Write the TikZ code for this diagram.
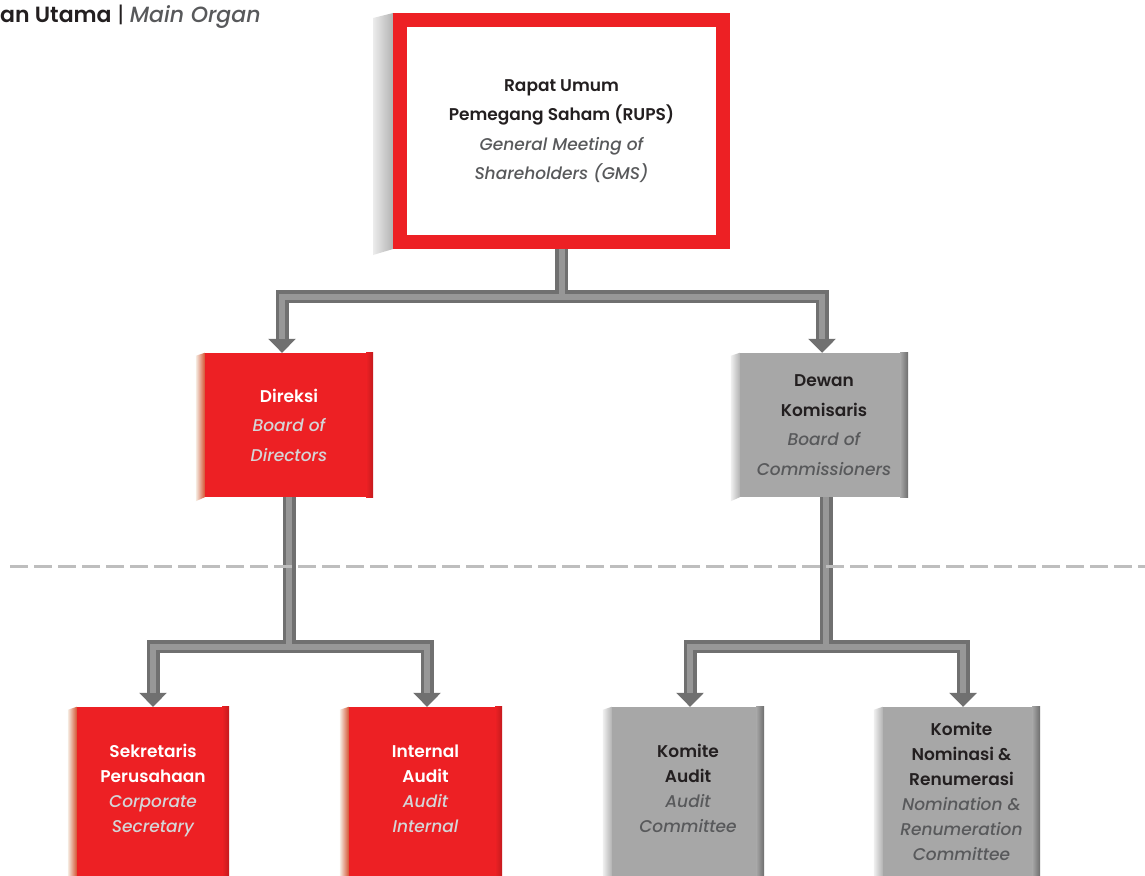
\documentclass[tikz,border=0pt]{standalone}
\usepackage{fontspec}
\setmainfont{Poppins}[BoldFont={Poppins SemiBold},ItalicFont={Poppins Medium Italic}]
\usetikzlibrary{arrows.meta,calc}
\definecolor{rred}{HTML}{ED2024}
\definecolor{bgray}{HTML}{A7A7A7}
\definecolor{txtd}{HTML}{231F20}
\definecolor{subg}{HTML}{58595B}
\definecolor{subr}{HTML}{D5D5D7}
\definecolor{conna}{HTML}{707070}
\definecolor{connb}{HTML}{979797}
\definecolor{dashc}{HTML}{BEBEBE}
\begin{document}
\begin{tikzpicture}[x=1pt,y=-1pt,
  redbox/.style={fill=rred, draw=none, inner sep=0pt},
  graybox/.style={fill=bgray, draw=none, inner sep=0pt},
  txt/.style={align=center, inner sep=0pt, font=\fontsize{17}{25}\selectfont},
  midtxt/.style={align=center, font=\fontsize{17}{29.5}\selectfont},
  conn/.style={draw=conna, line width=13pt, -{Triangle[width=27pt,length=14pt]}},
  connhi/.style={draw=connb, line width=6pt, shorten >=14pt}
]
\clip (0,0) rectangle (1145,875);
\fill[white] (0,0) rectangle (1145,875);

% title
\node[anchor=west, inner sep=0pt, font=\fontsize{22}{26}\selectfont] (title) at (0,17)
  {\textcolor{txtd}{\bfseries an Utama} \textcolor{txtd}{|} \textcolor{subg}{\itshape Main Organ}};

% boxes
\node[draw=rred, line width=14pt, fill=white, minimum width=323pt, minimum height=222pt, inner sep=0pt] (rups) at (561.5,131) {};
\node[redbox, minimum width=168pt, minimum height=144pt] (dir) at (289,425) {};
\node[graybox, minimum width=168pt, minimum height=144pt] (dk) at (824,425) {};
\node[redbox, minimum width=152pt, minimum height=190pt] (sek) at (153,802) {};
\node[redbox, minimum width=153pt, minimum height=190pt] (ia) at (425.5,802) {};
\node[graybox, minimum width=152pt, minimum height=190pt] (ka) at (688,802) {};
\node[graybox, minimum width=157pt, minimum height=190pt] (kn) at (961.5,802) {};

% side panels
\shade[left color=gray!15, right color=gray!60] ($(rups.north west)+(-20,5)$) -- (rups.north west) -- (rups.south west) -- ($(rups.south west)+(-20,6)$) -- cycle;
\foreach \b in {dir,sek,ia}{
  \shade[left color=brown!15!white, right color=rred!45!brown] ($(\b.north west)+(-9,3)$) -- (\b.north west) -- (\b.south west) -- ($(\b.south west)+(-9,4)$) -- cycle;
  \shade[left color=rred, right color=rred!82!black] ($(\b.north east)+(-7,0)$) rectangle (\b.south east);
}
\foreach \b in {dk,ka,kn}{
  \shade[left color=gray!12, right color=gray!60] ($(\b.north west)+(-9,3)$) -- (\b.north west) -- (\b.south west) -- ($(\b.south west)+(-9,4)$) -- cycle;
  \shade[left color=bgray, right color=bgray!65!black] ($(\b.north east)+(-8,0)$) rectangle (\b.south east);
}

% connectors
\draw[conn] (rups.south) -- ++(0,47.5) -| ([xshift=-7pt]dir.north);
\draw[conn] (rups.south) -- ++(0,47.5) -| ([xshift=-2pt]dk.north);
\draw[conn] (dir.south) -- ++(0,149.5) -| (sek.north);
\draw[conn] (dir.south) -- ++(0,149.5) -| ([xshift=1.5pt]ia.north);
\draw[conn] ([xshift=2pt]dk.south) -- ++(0,149.5) -| ([xshift=2pt]ka.north);
\draw[conn] ([xshift=2pt]dk.south) -- ++(0,149.5) -| ([xshift=1.5pt]kn.north);
\draw[connhi] (rups.south) -- ++(0,47.5) -| ([xshift=-7pt]dir.north);
\draw[connhi] (rups.south) -- ++(0,47.5) -| ([xshift=-2pt]dk.north);
\draw[connhi] (dir.south) -- ++(0,149.5) -| (sek.north);
\draw[connhi] (dir.south) -- ++(0,149.5) -| ([xshift=1.5pt]ia.north);
\draw[connhi] ([xshift=2pt]dk.south) -- ++(0,149.5) -| ([xshift=2pt]ka.north);
\draw[connhi] ([xshift=2pt]dk.south) -- ++(0,149.5) -| ([xshift=1.5pt]kn.north);

% dashed separator
\coordinate (dl) at (10,566);
\coordinate (dr) at (1145,566);
\draw[dashc, line width=3pt, dash pattern=on 18pt off 6pt] (dl) -- (dr);

% RUPS box drawn over connector start, with its text
\node[draw=rred, line width=14pt, fill=white, minimum width=323pt, minimum height=222pt, inner sep=0pt, midtxt] (rupst) at (561.5,131)
  {\textcolor{txtd}{\bfseries Rapat Umum}\\
   \textcolor{txtd}{\bfseries Pemegang Saham (RUPS)}\\
   \textcolor{subg}{\itshape General Meeting of}\\
   \textcolor{subg}{\itshape Shareholders (GMS)}};

% texts
\node[midtxt, text=white] (dirt) at (dir) {\bfseries Direksi\\ \textcolor{subr}{\itshape Board of}\\ \textcolor{subr}{\itshape Directors}};
\node[midtxt] (dkt) at (dk) {\textcolor{txtd}{\bfseries Dewan}\\ \textcolor{txtd}{\bfseries Komisaris}\\ \textcolor{subg}{\itshape Board of}\\ \textcolor{subg}{\itshape Commissioners}};
\node[txt, text=white] (sekt) at ($(sek.north)+(0,84)$) {\bfseries Sekretaris\\ \bfseries Perusahaan\\ \textcolor{subr}{\itshape Corporate}\\ \textcolor{subr}{\itshape Secretary}};
\node[txt, text=white] (iat) at ($(ia.north)+(0,81.5)$) {\bfseries Internal\\ \bfseries Audit\\ \textcolor{subr}{\itshape Audit}\\ \textcolor{subr}{\itshape Internal}};
\node[txt] (kat) at ($(ka.north)+(0,81.5)$) {\textcolor{txtd}{\bfseries Komite}\\ \textcolor{txtd}{\bfseries Audit}\\ \textcolor{subg}{\itshape Audit}\\ \textcolor{subg}{\itshape Committee}};
\node[txt] (knt) at ($(kn.north)+(0,84.5)$) {\textcolor{txtd}{\bfseries Komite}\\ \textcolor{txtd}{\bfseries Nominasi \&}\\ \textcolor{txtd}{\bfseries Renumerasi}\\ \textcolor{subg}{\itshape Nomination \&}\\ \textcolor{subg}{\itshape Renumeration}\\ \textcolor{subg}{\itshape Committee}};
\end{tikzpicture}
\end{document}
